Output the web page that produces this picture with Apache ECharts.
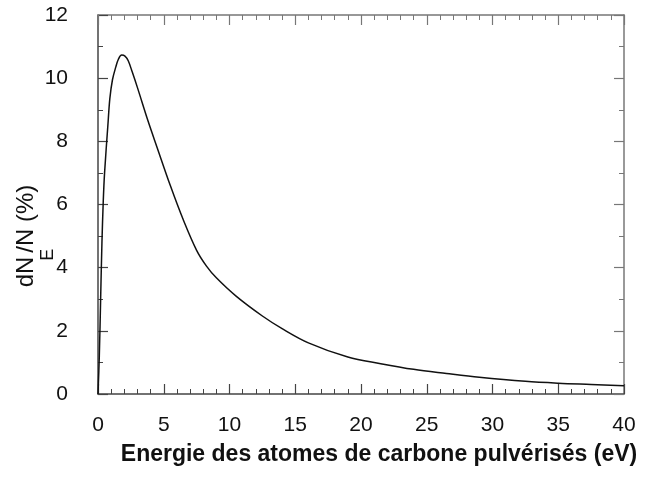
<!DOCTYPE html>
<html>
<head>
<meta charset="utf-8">
<script src="https://cdn.jsdelivr.net/npm/echarts@6/dist/echarts.min.js"></script>
<style>
  html, body { margin: 0; padding: 0; background: #fff; }
  #chart { width: 670px; height: 481px; }
</style>
</head>
<body>
<div id="chart"></div>
<script>
// Energy of sputtered carbon atoms (eV) and the fraction dN_E/N (%)
const energyEv = [0, 0.1, 0.2, 0.3, 0.4, 0.5, 0.75, 0.9, 1.1, 1.35, 1.55, 1.8, 2.05, 2.3, 2.6, 3, 3.8, 4.5, 5.5, 6.5, 7.5, 8.25, 9, 10.5, 12.5, 14, 16, 19, 21.5, 24, 26.5, 29, 32.5, 35, 37.5, 40];
const fractionPct = [0, 1.2, 3.0, 4.8, 6.1, 7.0, 8.5, 9.35, 9.95, 10.35, 10.6, 10.73, 10.7, 10.55, 10.2, 9.7, 8.65, 7.8, 6.6, 5.5, 4.55, 4.05, 3.68, 3.1, 2.47, 2.07, 1.62, 1.17, 0.96, 0.78, 0.65, 0.53, 0.40, 0.34, 0.30, 0.26];

const xTicks = [0, 5, 10, 15, 20, 25, 30, 35, 40];
const yTicks = [0, 2, 4, 6, 8, 10, 12];

const xTitle = 'Energie des atomes de carbone pulvérisés (eV)';

const font = '"Liberation Sans", Arial, sans-serif';
const frameDark = '#444';
const frameLight = '#777';

const chart = echarts.init(document.getElementById('chart'));

const points = energyEv.map((e, i) => [e, fractionPct[i]]);

function xAxisDef(pos, showLabels, color) {
  return {
    type: 'value',
    position: pos,
    min: xTicks[0],
    max: xTicks[xTicks.length - 1],
    interval: xTicks[1] - xTicks[0],
    axisLine: { show: true, onZero: false, lineStyle: { color: color, width: 1.5 } },
    axisTick: { show: true, inside: true, length: 10, lineStyle: { color: color, width: 1.2 } },
    minorTick: { show: true, splitNumber: 5, length: 5, lineStyle: { color: color, width: 1 } },
    splitLine: { show: false },
    axisLabel: {
      show: showLabels, margin: 21, color: '#111',
      fontFamily: font, fontSize: 21
    }
  };
}

function yAxisDef(pos, showLabels, color) {
  return {
    type: 'value',
    position: pos,
    min: yTicks[0],
    max: yTicks[yTicks.length - 1],
    interval: yTicks[1] - yTicks[0],
    axisLine: { show: true, onZero: false, lineStyle: { color: color, width: 1.5 } },
    axisTick: { show: true, inside: true, length: 10, lineStyle: { color: color, width: 1.2 } },
    minorTick: { show: true, splitNumber: 2, length: 5, lineStyle: { color: color, width: 1 } },
    splitLine: { show: false },
    axisLabel: {
      show: showLabels, margin: 30, color: '#111',
      fontFamily: font, fontSize: 21
    }
  };
}

chart.setOption({
  backgroundColor: '#fff',
  animation: false,
  grid: { left: 98, right: 46, top: 15, bottom: 87 },
  xAxis: [xAxisDef('bottom', true, frameDark), xAxisDef('top', false, frameLight)],
  yAxis: [yAxisDef('left', true, frameDark), yAxisDef('right', false, frameLight)],
  graphic: [
    {
      type: 'text',
      x: 379, y: 455,
      style: {
        text: xTitle,
        fontFamily: font, fontSize: 23, fontWeight: 'bold',
        fill: '#111', align: 'center', verticalAlign: 'middle'
      }
    },
    {
      type: 'text',
      x: 27, y: 236,
      rotation: Math.PI / 2,
      style: {
        text: '{a|dN}{sub|E}{a|/N (%)}',
        align: 'center', verticalAlign: 'middle',
        rich: {
          a: { fontFamily: font, fontSize: 24, fill: '#111', verticalAlign: 'top', lineHeight: 26 },
          sub: { fontFamily: font, fontSize: 18, fill: '#111', verticalAlign: 'top', padding: [25, 0, 0, 0], lineHeight: 18, width: 4, align: 'left' }
        }
      }
    }
  ],
  series: [{
    type: 'line',
    xAxisIndex: 0,
    yAxisIndex: 0,
    data: points,
    smooth: 0.35,
    showSymbol: false,
    lineStyle: { color: '#111', width: 1.5 }
  }]
});
</script>
</body>
</html>
